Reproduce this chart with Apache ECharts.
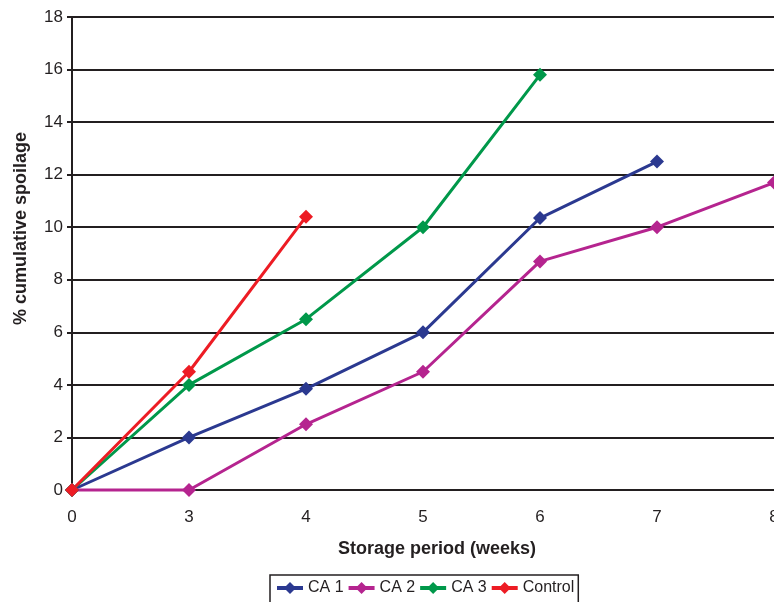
<!DOCTYPE html>
<html>
<head>
<meta charset="utf-8">
<script src="https://cdn.jsdelivr.net/npm/echarts@6/dist/echarts.min.js"></script>
<style>
  html, body { margin: 0; padding: 0; background: #fff; }
  #chart { width: 774px; height: 602px; }
</style>
</head>
<body>
<div id="chart"></div>
<script>
// Storage weeks on the x axis
const weeks = ['0', '3', '4', '5', '6', '7', '8'];

// Cumulative spoilage (%) per storage treatment
const ca1 = [0, 2, 3.85, 6, 10.35, 12.5];
const ca2 = [0, 0, 2.5, 4.5, 8.7, 10, 11.7];
const ca3 = [0, 4, 6.5, 10, 15.8];
const control = [0, 4.5, 10.4];

const seriesDefs = [
  { name: 'CA 1', data: ca1, color: '#2b3990' },
  { name: 'CA 2', data: ca2, color: '#b5248f' },
  { name: 'CA 3', data: ca3, color: '#00984a' },
  { name: 'Control', data: control, color: '#ed1c24' }
];

const font = 'Arial, "Liberation Sans", sans-serif';
const ink = '#231f20';

const chart = echarts.init(document.getElementById('chart'), null, { renderer: 'canvas' });

chart.setOption({
  animation: false,
  backgroundColor: '#fff',
  grid: { left: 72, right: 0, top: 17, bottom: 112, containLabel: false, outerBoundsMode: 'none' },
  xAxis: {
    type: 'category',
    data: weeks,
    boundaryGap: false,
    axisLine: { show: true, lineStyle: { color: ink, width: 2 } },
    axisTick: { show: false },
    axisLabel: { color: ink, fontSize: 17, fontFamily: font, margin: 19 },
    splitLine: { show: false },
    name: 'Storage period (weeks)',
    nameLocation: 'middle',
    nameGap: 50,
    nameTextStyle: { color: ink, fontSize: 18, fontWeight: 'bold', fontFamily: font, padding: [0, 0, 0, 28] }
  },
  yAxis: {
    type: 'value',
    min: 0,
    max: 18,
    interval: 2,
    axisLine: { show: true, lineStyle: { color: ink, width: 2 } },
    axisTick: { show: true, length: 5, lineStyle: { color: ink, width: 2 } },
    axisLabel: { color: ink, fontSize: 17, fontFamily: font, margin: 9 },
    splitLine: { show: true, lineStyle: { color: ink, width: 2 } },
    name: '% cumulative spoilage',
    nameLocation: 'middle',
    nameGap: 42,
    nameRotate: 90,
    nameTextStyle: { color: ink, fontSize: 18, fontWeight: 'bold', fontFamily: font, padding: [0, 0, 0, 50] }
  },
  legend: {
    left: 270,
    top: 575,
    orient: 'horizontal',
    itemWidth: 26,
    itemHeight: 15,
    itemGap: 3,
    padding: [5, 4, 8, 5],
    borderColor: ink,
    borderWidth: 1.5,
    borderRadius: 0,
    lineStyle: { width: 4 },
    textStyle: { color: ink, fontSize: 16, fontFamily: font },
    data: seriesDefs.map(s => s.name)
  },
  series: seriesDefs.map(s => ({
    name: s.name,
    type: 'line',
    data: s.data,
    color: s.color,
    symbol: 'diamond',
    symbolSize: 14,
    clip: false,
    lineStyle: { width: 3, color: s.color },
    itemStyle: { color: s.color }
  }))
});
</script>
</body>
</html>
